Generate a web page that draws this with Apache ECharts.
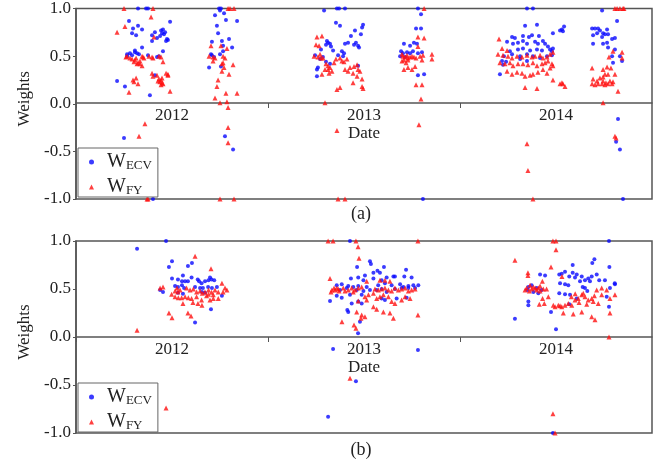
<!DOCTYPE html>
<html>
<head>
<meta charset="utf-8">
<script src="https://cdn.jsdelivr.net/npm/echarts@6/dist/echarts.min.js"></script>
<style>
  html, body { margin: 0; padding: 0; background: #fff; }
  #chart { width: 668px; height: 465px; }
</style>
</head>
<body>
<div id="chart"></div>
<script>
// Weights of the two retrievals over time, points given as [decimal year, weight]
const yearTicks = [2012, 2013, 2014, 2015];
const weightTicks = [-1.0, -0.5, 0.0, 0.5, 1.0];
const panelLabels = ['(a)', '(b)'];

// Panel (a)
const ecvA = [
  [2012.323,1.0],[2012.365,1.0],[2012.375,1.0],
  [2012.276,0.87],[2012.323,0.82],[2012.297,0.79],[2012.344,0.78],[2012.292,0.74],[2012.313,0.72],
  [2012.49,0.86],[2012.411,0.75],[2012.443,0.77],[2012.453,0.78],[2012.448,0.74],[2012.458,0.73],[2012.396,0.72],
  [2012.422,0.69],[2012.474,0.68],[2012.479,0.67],[2012.469,0.66],[2012.438,0.71],[2012.464,0.75],[2012.396,0.66],
  [2012.344,0.59],[2012.307,0.56],[2012.266,0.52],[2012.281,0.53],[2012.292,0.51],[2012.307,0.54],[2012.318,0.53],
  [2012.328,0.52],[2012.266,0.50],[2012.375,0.51],[2012.432,0.50],[2012.422,0.49],[2012.453,0.55],
  [2012.411,0.30],[2012.214,0.24],[2012.255,0.18],[2012.385,0.09],[2012.25,-0.36],[2012.401,-1.0],
  [2012.745,1.0],[2012.755,1.0],[2012.75,0.98],[2012.724,0.93],[2012.771,0.95],[2012.734,0.82],[2012.781,0.88],
  [2012.839,0.87],[2012.74,0.74],[2012.797,0.68],[2012.76,0.66],[2012.766,0.61],[2012.708,0.65],[2012.813,0.59],
  [2012.703,0.52],[2012.708,0.51],[2012.719,0.49],[2012.75,0.52],[2012.766,0.55],[2012.693,0.38],[2012.755,0.39],
  [2012.776,-0.34],[2012.818,-0.48],
  [2013.292,0.98],[2013.359,1.0],[2013.37,1.0],[2013.401,1.0],
  [2013.354,0.85],[2013.375,0.82],[2013.495,0.83],[2013.49,0.80],[2013.453,0.77],[2013.432,0.71],[2013.484,0.73],
  [2013.307,0.66],[2013.313,0.64],[2013.323,0.63],[2013.302,0.62],[2013.328,0.60],
  [2013.417,0.64],[2013.401,0.63],[2013.448,0.62],[2013.458,0.64],[2013.469,0.61],[2013.474,0.59],
  [2013.276,0.57],[2013.339,0.56],[2013.385,0.55],[2013.396,0.53],[2013.245,0.51],[2013.286,0.49],[2013.271,0.47],
  [2013.365,0.51],[2013.391,0.50],[2013.302,0.44],[2013.26,0.38],[2013.255,0.36],[2013.255,0.29],[2013.469,0.40],[2013.323,0.42],
  [2013.781,1.0],[2013.797,0.94],[2013.771,0.79],[2013.797,0.79],
  [2013.708,0.63],[2013.74,0.61],[2013.776,0.63],[2013.76,0.64],
  [2013.693,0.55],[2013.703,0.53],[2013.724,0.54],[2013.74,0.53],[2013.755,0.55],[2013.781,0.53],[2013.802,0.54],
  [2013.688,0.50],[2013.714,0.49],[2013.781,0.30],[2013.813,0.31],[2013.807,-1.0],
  [2014.349,1.0],[2014.38,1.0],[2014.339,0.82],[2014.401,0.83],[2014.531,0.78],[2014.542,0.81],[2014.521,0.77],
  [2014.536,0.76],[2014.484,0.74],
  [2014.328,0.71],[2014.359,0.70],[2014.375,0.72],[2014.411,0.71],[2014.286,0.69],[2014.271,0.70],
  [2014.245,0.65],[2014.276,0.63],[2014.302,0.64],[2014.328,0.66],[2014.349,0.63],[2014.391,0.65],[2014.406,0.63],
  [2014.432,0.66],[2014.443,0.63],[2014.458,0.60],[2014.469,0.57],
  [2014.26,0.55],[2014.302,0.57],[2014.328,0.58],[2014.365,0.56],[2014.401,0.57],[2014.427,0.56],[2014.479,0.55],[2014.484,0.58],
  [2014.229,0.50],[2014.271,0.52],[2014.313,0.50],[2014.349,0.52],[2014.38,0.50],[2014.417,0.48],[2014.453,0.50],[2014.479,0.51],
  [2014.219,0.45],[2014.24,0.44],[2014.224,0.41],[2014.313,0.47],[2014.349,0.45],[2014.208,0.31],
  [2014.74,0.98],[2014.688,0.79],[2014.703,0.79],[2014.719,0.79],[2014.729,0.77],[2014.714,0.74],[2014.745,0.74],
  [2014.766,0.78],[2014.755,0.73],[2014.771,0.73],[2014.693,0.72],[2014.74,0.70],
  [2014.818,0.87],[2014.807,0.69],[2014.792,0.68],
  [2014.693,0.63],[2014.745,0.63],[2014.771,0.59],[2014.766,0.64],
  [2014.807,0.57],[2014.792,0.50],[2014.833,0.50],[2014.797,0.43],[2014.844,0.45],
  [2014.823,-0.16],[2014.813,-0.40],[2014.833,-0.48],[2014.849,-1.0]
];

const fyA = [
  [2012.25,1.0],[2012.401,1.0],[2012.391,0.91],[2012.255,0.81],[2012.214,0.75],[2012.406,0.70],
  [2012.266,0.50],[2012.281,0.48],[2012.292,0.47],[2012.26,0.49],[2012.307,0.46],[2012.313,0.48],[2012.333,0.45],
  [2012.344,0.50],[2012.349,0.49],[2012.354,0.48],[2012.38,0.50],[2012.396,0.49],[2012.401,0.48],[2012.302,0.44],
  [2012.323,0.43],[2012.333,0.42],[2012.443,0.49],[2012.432,0.50],
  [2012.453,0.44],[2012.344,0.40],[2012.318,0.42],
  [2012.396,0.32],[2012.401,0.29],[2012.422,0.30],[2012.469,0.32],[2012.479,0.31],[2012.479,0.30],
  [2012.432,0.26],[2012.443,0.25],[2012.437,0.23],[2012.448,0.22],[2012.443,0.20],[2012.453,0.21],[2012.427,0.24],[2012.448,0.27],
  [2012.297,0.25],[2012.313,0.27],[2012.302,0.23],[2012.323,0.21],[2012.276,0.12],[2012.49,0.13],
  [2012.359,-0.21],[2012.328,-0.34],[2012.37,-0.90],[2012.37,-1.0],[2012.375,-1.0],
  [2012.792,1.0],[2012.802,1.0],[2012.823,1.0],
  [2012.703,0.61],[2012.755,0.61],[2012.786,0.58],
  [2012.693,0.50],[2012.714,0.49],[2012.724,0.48],[2012.766,0.50],[2012.776,0.48],[2012.766,0.43],[2012.714,0.45],
  [2012.76,0.42],[2012.771,0.38],[2012.76,0.34],[2012.797,0.31],[2012.818,0.41],
  [2012.74,0.25],[2012.734,0.18],[2012.724,0.06],[2012.75,0.01],[2012.786,0.02],[2012.781,0.11],[2012.839,0.11],
  [2012.792,-0.04],[2012.792,-0.25],[2012.792,-0.41],[2012.75,-1.0],[2012.823,-1.0],
  [2013.255,0.70],[2013.281,0.71],[2013.25,0.62],[2013.266,0.61],
  [2013.24,0.50],[2013.26,0.49],[2013.276,0.48],[2013.286,0.48],[2013.271,0.52],
  [2013.302,0.42],[2013.313,0.40],[2013.323,0.38],[2013.313,0.36],[2013.333,0.34],[2013.297,0.36],[2013.318,0.32],[2013.281,0.31],
  [2013.344,0.43],[2013.354,0.47],[2013.375,0.48],[2013.385,0.45],[2013.396,0.44],[2013.411,0.47],
  [2013.401,0.36],[2013.417,0.34],[2013.427,0.38],[2013.448,0.39],[2013.464,0.41],[2013.469,0.36],[2013.479,0.34],[2013.443,0.32],
  [2013.464,0.29],[2013.49,0.26],[2013.443,0.22],[2013.375,0.17],[2013.359,0.15],[2013.49,0.18],[2013.495,0.16],
  [2013.297,0.01],[2013.359,-0.28],[2013.365,-1.0],[2013.401,-1.0],
  [2013.813,1.0],[2013.781,0.70],[2013.813,0.69],[2013.781,0.60],
  [2013.698,0.52],[2013.703,0.50],[2013.714,0.49],[2013.724,0.51],[2013.729,0.48],[2013.74,0.49],[2013.75,0.50],
  [2013.76,0.49],[2013.771,0.48],[2013.792,0.50],[2013.807,0.51],[2013.854,0.52],[2013.854,0.47],
  [2013.698,0.45],[2013.708,0.46],[2013.719,0.43],[2013.729,0.46],[2013.802,0.46],
  [2013.708,0.36],[2013.729,0.38],[2013.75,0.36],[2013.766,0.39],
  [2013.771,0.20],[2013.802,0.20],[2013.797,0.05],[2013.786,-0.22],
  [2014.203,0.68],[2014.219,0.58],[2014.245,0.56],
  [2014.198,0.52],[2014.224,0.51],[2014.25,0.50],[2014.271,0.48],[2014.297,0.50],[2014.323,0.49],[2014.349,0.51],
  [2014.375,0.49],[2014.391,0.50],[2014.417,0.51],[2014.432,0.48],[2014.453,0.49],[2014.469,0.52],[2014.484,0.54],
  [2014.208,0.43],[2014.234,0.42],[2014.26,0.43],[2014.276,0.40],[2014.302,0.42],[2014.328,0.42],[2014.354,0.41],
  [2014.38,0.43],[2014.401,0.40],[2014.427,0.42],[2014.443,0.43],[2014.458,0.45],[2014.479,0.42],
  [2014.245,0.34],[2014.271,0.31],[2014.297,0.33],[2014.323,0.32],[2014.339,0.29],[2014.365,0.30],[2014.38,0.31],
  [2014.406,0.33],[2014.432,0.36],[2014.453,0.32],[2014.469,0.375],[2014.484,0.40],
  [2014.484,0.25],[2014.531,0.22],[2014.536,0.21],[2014.547,0.18],[2014.521,0.21],
  [2014.339,0.17],[2014.401,0.16],[2014.349,-0.42],[2014.354,-0.70],[2014.38,-1.0],
  [2014.807,1.0],[2014.818,1.0],[2014.833,1.0],[2014.849,1.0],[2014.854,1.0],
  [2014.797,0.55],[2014.844,0.54],[2014.776,0.49],[2014.844,0.48],
  [2014.688,0.375],[2014.745,0.36],[2014.766,0.385],[2014.786,0.375],
  [2014.807,0.31],[2014.755,0.31],[2014.771,0.31],
  [2014.693,0.26],[2014.714,0.24],[2014.729,0.27],[2014.745,0.24],[2014.76,0.22],[2014.781,0.24],[2014.797,0.23],[2014.745,0.28],
  [2014.688,0.21],[2014.703,0.20],[2014.719,0.21],[2014.74,0.21],[2014.755,0.20],[2014.771,0.21],[2014.792,0.21],
  [2014.823,0.13],[2014.745,0.01],[2014.807,-0.34],[2014.813,-0.36]
];

// Panel (b)
const ecvB = [
  [2012.469,1.0],[2012.318,0.92],[2012.5,0.79],[2012.484,0.73],[2012.604,0.77],[2012.583,0.74],
  [2012.5,0.61],[2012.531,0.60],[2012.552,0.58],[2012.568,0.58],[2012.583,0.58],[2012.557,0.64],
  [2012.602,0.62],[2012.634,0.60],[2012.641,0.58],[2012.654,0.56],[2012.672,0.58],[2012.69,0.59],[2012.698,0.62],
  [2012.706,0.60],[2012.72,0.59],
  [2012.516,0.53],[2012.531,0.52],[2012.552,0.54],[2012.563,0.51],[2012.438,0.49],[2012.453,0.47],
  [2012.62,0.52],[2012.646,0.51],[2012.661,0.51],[2012.688,0.52],[2012.708,0.51],[2012.734,0.52],
  [2012.531,0.46],[2012.557,0.45],[2012.656,0.47],[2012.672,0.46],[2012.76,0.43],[2012.703,0.29],[2012.62,0.15],
  [2013.427,1.0],[2013.531,0.79],[2013.536,0.76],[2013.464,0.73],[2013.57,0.69],[2013.583,0.67],[2013.549,0.67],
  [2013.604,0.73],[2013.719,0.70],
  [2013.432,0.61],[2013.47,0.62],[2013.505,0.64],[2013.497,0.59],[2013.549,0.61],[2013.592,0.59],[2013.618,0.62],
  [2013.653,0.63],[2013.661,0.63],[2013.71,0.63],[2013.748,0.62],
  [2013.358,0.54],[2013.384,0.55],[2013.418,0.53],[2013.444,0.52],[2013.47,0.53],[2013.514,0.52],[2013.574,0.54],
  [2013.609,0.56],[2013.644,0.54],[2013.688,0.55],[2013.705,0.52],[2013.731,0.53],[2013.757,0.54],
  [2013.375,0.49],[2013.41,0.51],[2013.462,0.49],[2013.497,0.48],[2013.531,0.49],[2013.566,0.49],[2013.592,0.50],
  [2013.618,0.47],[2013.661,0.50],[2013.696,0.51],[2013.731,0.51],[2013.766,0.51],[2013.783,0.54],
  [2013.358,0.43],[2013.384,0.41],[2013.427,0.44],[2013.488,0.44],[2013.592,0.40],[2013.609,0.385],[2013.67,0.40],
  [2013.722,0.41],[2013.323,0.375],[2013.47,0.37],[2013.488,0.35],[2013.436,0.35],
  [2013.413,0.28],[2013.418,0.26],[2013.479,0.16],[2013.469,0.04],
  [2013.339,-0.125],[2013.781,-0.135],[2013.458,-0.46],[2013.313,-0.83],
  [2014.776,1.0],[2014.484,-1.0],[2014.286,0.19],[2014.5,0.08],[2014.474,0.26],
  [2014.7,0.81],[2014.689,0.77],[2014.778,0.73],[2014.587,0.75],
  [2014.53,0.66],[2014.547,0.68],[2014.587,0.67],[2014.608,0.65],[2014.634,0.63],[2014.569,0.63],[2014.599,0.62],[2014.517,0.65],
  [2014.417,0.65],[2014.443,0.64],
  [2014.356,0.52],[2014.373,0.54],[2014.399,0.51],[2014.425,0.49],[2014.351,0.49],[2014.382,0.47],[2014.408,0.455],
  [2014.356,0.37],[2014.356,0.33],
  [2014.521,0.56],[2014.547,0.55],[2014.564,0.54],[2014.625,0.58],[2014.651,0.59],[2014.668,0.61],[2014.677,0.58],
  [2014.686,0.63],[2014.712,0.65],[2014.725,0.59],[2014.755,0.59],[2014.807,0.55],[2014.806,0.56],[2014.781,0.51],[2014.764,0.42],
  [2014.639,0.52],[2014.651,0.51],[2014.663,0.48],[2014.517,0.455],[2014.547,0.445],[2014.573,0.44],[2014.608,0.40],
  [2014.569,0.34],[2014.776,0.315]
];

const fyB = [
  [2012.62,0.84],[2012.703,0.71],[2012.76,0.56],[2012.438,0.51],[2012.453,0.52],
  [2012.526,0.51],[2012.542,0.49],[2012.516,0.48],[2012.531,0.47],
  [2012.576,0.51],[2012.594,0.49],[2012.611,0.50],[2012.628,0.47],[2012.646,0.48],[2012.658,0.455],[2012.672,0.47],
  [2012.69,0.49],[2012.706,0.465],[2012.724,0.49],[2012.741,0.47],[2012.715,0.44],[2012.69,0.445],[2012.68,0.43],
  [2012.776,0.51],[2012.786,0.49],[2012.766,0.47],
  [2012.498,0.445],[2012.516,0.42],[2012.533,0.41],[2012.55,0.41],[2012.568,0.42],[2012.585,0.41],[2012.602,0.40],
  [2012.628,0.42],[2012.654,0.385],[2012.698,0.385],[2012.715,0.40],[2012.741,0.40],
  [2012.557,0.35],[2012.609,0.36],[2012.635,0.35],[2012.656,0.33],
  [2012.484,0.25],[2012.5,0.20],[2012.583,0.25],[2012.599,0.22],[2012.318,0.07],[2012.469,-0.74],
  [2013.313,1.0],[2013.339,1.0],[2013.458,1.0],[2013.781,1.0],[2013.469,0.94],[2013.474,0.82],[2013.323,0.61],
  [2013.358,0.51],[2013.366,0.50],[2013.37,0.48],[2013.349,0.49],[2013.392,0.51],[2013.401,0.48],[2013.418,0.49],
  [2013.436,0.51],[2013.444,0.47],[2013.453,0.49],[2013.47,0.51],[2013.488,0.52],[2013.333,0.49],[2013.344,0.51],[2013.328,0.47],
  [2013.557,0.50],[2013.575,0.49],[2013.592,0.50],[2013.609,0.51],[2013.627,0.49],[2013.644,0.48],[2013.661,0.51],
  [2013.679,0.49],[2013.696,0.50],[2013.714,0.51],[2013.731,0.48],[2013.748,0.49],[2013.766,0.50],
  [2013.505,0.42],[2013.523,0.44],[2013.549,0.455],[2013.566,0.40],[2013.583,0.42],[2013.601,0.44],[2013.627,0.42],
  [2013.644,0.37],[2013.661,0.35],[2013.696,0.385],[2013.714,0.42],[2013.74,0.40],
  [2013.514,0.58],[2013.583,0.59],[2013.609,0.59],[2013.635,0.58],[2013.47,0.375],[2013.514,0.385],
  [2013.462,0.26],[2013.488,0.23],[2013.505,0.21],[2013.484,0.195],[2013.549,0.315],[2013.566,0.29],[2013.601,0.26],
  [2013.635,0.25],[2013.653,0.195],[2013.781,0.23],
  [2013.385,0.16],[2013.448,0.125],[2013.458,0.09],[2013.427,-0.43],
  [2014.484,1.0],[2014.5,1.0],[2014.5,0.91],[2014.286,0.80],[2014.474,0.73],[2014.531,0.63],[2014.354,0.67],[2014.354,0.64],
  [2014.365,0.54],[2014.347,0.51],[2014.373,0.50],[2014.391,0.51],[2014.399,0.49],[2014.417,0.48],[2014.434,0.50],
  [2014.451,0.50],[2014.339,0.49],[2014.361,0.48],[2014.382,0.52],[2014.408,0.51],[2014.429,0.58],[2014.417,0.53],
  [2014.43,0.40],[2014.439,0.35],[2014.413,0.34],[2014.46,0.42],[2014.486,0.33],[2014.512,0.33],[2014.53,0.315],
  [2014.547,0.33],[2014.564,0.35],[2014.582,0.33],[2014.599,0.385],[2014.616,0.40],[2014.634,0.44],[2014.642,0.455],
  [2014.651,0.42],[2014.668,0.385],[2014.686,0.40],[2014.694,0.37],[2014.72,0.35],[2014.712,0.49],[2014.738,0.51],
  [2014.764,0.49],[2014.807,0.44],[2014.781,0.40],[2014.738,0.44],
  [2014.6,0.45],[2014.62,0.36],[2014.66,0.34],[2014.7,0.43],[2014.58,0.42],
  [2014.538,0.25],[2014.59,0.24],[2014.634,0.26],[2014.686,0.21],[2014.703,0.18],[2014.781,0.25],
  [2014.495,0.315],[2014.521,0.325],
  [2014.776,0.0],[2014.484,-0.8],[2014.495,-1.0]
];

const FONT = '"Liberation Serif", "DejaVu Serif", serif';
const INK = '#222';
const AXIS = '#555';
const BLUE = '#0a0aff';
const RED = '#ff1010';

const grids = [
  { left: 76, top: 7, width: 576, height: 192 },
  { left: 76, top: 241, width: 576, height: 192 }
];
const legendTops = [148, 383];
const captionY = [214, 450];

const legendRich = {
  w: { fontFamily: FONT, fontSize: 20, color: INK, lineHeight: 20 },
  s: { fontFamily: FONT, fontSize: 13, color: INK, lineHeight: 13, verticalAlign: 'bottom' }
};

const option = {
  animation: false,
  backgroundColor: '#fff',
  grid: grids.map(g => Object.assign({ show: true, borderColor: AXIS, borderWidth: 1.5, backgroundColor: 'transparent' }, g)),
  xAxis: grids.map((g, i) => ({
    type: 'value',
    gridIndex: i,
    position: 'bottom',
    // the time axis runs along weight = 0, half way up the panel
    offset: -g.height / 2,
    min: yearTicks[0],
    max: yearTicks[yearTicks.length - 1],
    interval: 1,
    axisLine: { onZero: false, lineStyle: { color: AXIS, width: 1.5 } },
    axisTick: { show: true, length: 5, lineStyle: { color: AXIS, width: 1 } },
    splitLine: { show: false },
    axisLabel: {
      align: 'left',
      margin: 4,
      showMaxLabel: false,
      formatter: v => (v < yearTicks[yearTicks.length - 1] ? '{y|' + v + '}' : ''),
      rich: { y: { width: 192, align: 'center', fontFamily: FONT, fontSize: 17, color: INK } }
    },
    name: 'Date',
    nameLocation: 'middle',
    nameGap: 21,
    nameTextStyle: { fontFamily: FONT, fontSize: 17, color: INK }
  })),
  yAxis: grids.map((g, i) => ({
    type: 'value',
    gridIndex: i,
    min: weightTicks[0],
    max: weightTicks[weightTicks.length - 1],
    interval: 0.5,
    axisLine: { show: true, onZero: false, lineStyle: { color: AXIS, width: 1.5 } },
    axisTick: { show: true, length: 3, lineStyle: { color: AXIS } },
    splitLine: { show: false },
    axisLabel: {
      margin: 5,
      formatter: v => v.toFixed(1),
      fontFamily: FONT, fontSize: 17, color: INK
    },
    name: 'Weights',
    nameLocation: 'middle',
    nameGap: 41,
    nameTextStyle: { fontFamily: FONT, fontSize: 17, color: INK, padding: [0, 0, 0, 10] }
  })),
  legend: legendTops.map(t => ({
    left: 78,
    top: t,
    orient: 'vertical',
    data: [{ name: 'ECV', icon: 'circle' }, { name: 'FY', icon: 'triangle' }],
    itemWidth: 5,
    itemHeight: 5,
    itemGap: 5,
    padding: [4, 6, 0, 11],
    backgroundColor: '#fff',
    borderColor: '#666',
    borderWidth: 1,
    formatter: name => '{w|W}{s|' + name + '}',
    textStyle: { rich: legendRich, padding: [0, 0, 0, 8] },
    selectedMode: false
  })),
  graphic: panelLabels.map((txt, i) => ({
    type: 'text',
    x: 361,
    y: captionY[i],
    style: { text: txt, fontFamily: FONT, fontSize: 18, fill: INK, align: 'center', verticalAlign: 'middle' }
  })),
  series: [
    { name: 'ECV', type: 'scatter', xAxisIndex: 0, yAxisIndex: 0, data: ecvA, symbol: 'circle', symbolSize: 4, itemStyle: { color: BLUE } },
    { name: 'FY', type: 'scatter', xAxisIndex: 0, yAxisIndex: 0, data: fyA, symbol: 'triangle', symbolSize: 5, itemStyle: { color: RED } },
    { name: 'ECV', type: 'scatter', xAxisIndex: 1, yAxisIndex: 1, data: ecvB, symbol: 'circle', symbolSize: 4, itemStyle: { color: BLUE } },
    { name: 'FY', type: 'scatter', xAxisIndex: 1, yAxisIndex: 1, data: fyB, symbol: 'triangle', symbolSize: 5, itemStyle: { color: RED } }
  ]
};

const chart = echarts.init(document.getElementById('chart'), null, { renderer: 'canvas' });
chart.setOption(option);
</script>
</body>
</html>
